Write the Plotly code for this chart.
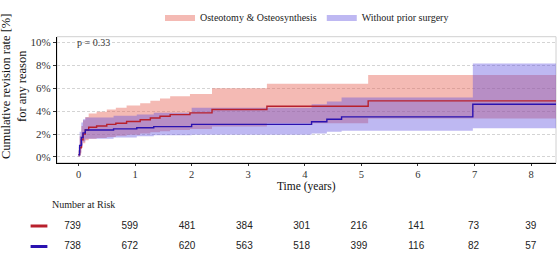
import plotly.graph_objects as go

# ---------------- data ----------------
t_ost = [0, 0.02, 0.05, 0.08, 0.12, 0.18, 0.32, 0.5, 0.66, 0.85, 1.09, 1.27, 1.44, 1.62, 1.97, 2.36, 3.33, 5.12, 8.44]
y_ost = [0.2, 0.8, 1.5, 2.0, 2.35, 2.6, 2.7, 2.85, 2.95, 3.1, 3.25, 3.4, 3.55, 3.7, 3.85, 4.15, 4.43, 4.9, 4.9]
up_ost = [0.5, 1.8, 2.7, 3.2, 3.5, 3.8, 3.95, 4.15, 4.3, 4.5, 4.7, 4.9, 5.1, 5.3, 5.5, 6.0, 6.4, 7.15, 7.15]
lo_ost = [0.0, 0.3, 0.8, 1.2, 1.45, 1.6, 1.65, 1.75, 1.85, 1.95, 2.05, 2.15, 2.25, 2.35, 2.45, 2.65, 2.95, 3.35, 3.35]

t_wo = [0, 0.02, 0.05, 0.08, 0.12, 0.62, 1.03, 1.33, 2.0, 4.12, 4.39, 4.65, 6.97, 8.44]
y_wo = [0.2, 1.0, 1.7, 2.1, 2.35, 2.45, 2.55, 2.65, 2.85, 3.08, 3.29, 3.5, 4.6, 4.6]
up_wo = [0.6, 2.2, 3.0, 3.3, 3.45, 3.6, 3.7, 3.85, 4.3, 4.6, 4.85, 5.2, 8.15, 8.15]
lo_wo = [0.0, 0.4, 1.0, 1.35, 1.6, 1.7, 1.8, 1.9, 1.95, 2.05, 2.2, 2.3, 2.5, 2.5]

risk_times = [0, 1, 2, 3, 4, 5, 6, 7, 8]
risk_ost = [739, 599, 481, 384, 301, 216, 141, 73, 39]
risk_wo = [738, 672, 620, 563, 518, 399, 116, 82, 57]

series_names = ["Osteotomy & Osteosynthesis", "Without prior surgery"]
y_ticks = [0, 2, 4, 6, 8, 10]
y_tick_labels = ["0%", "2%", "4%", "6%", "8%", "10%"]
p_text = "p = 0.33"
y_title = "Cumulative revision rate [%]<br>for any reason"
x_title = "Time (years)"
risk_title = "Number at Risk"

# ---------------- style ----------------
RED_LINE = "#b8202c"
BLUE_LINE = "#2a12b0"
RED_FILL = "rgba(230,98,84,0.44)"
BLUE_FILL = "rgba(92,78,222,0.40)"
SERIF = "Liberation Serif"
SANS = "Liberation Sans"

W, H = 560, 256
L, R = 25, 4
PW = W - L - R

fig = go.Figure()

for t, lo, up, fillc, name in [(t_ost, lo_ost, up_ost, RED_FILL, series_names[0]),
                                (t_wo, lo_wo, up_wo, BLUE_FILL, series_names[1])]:
    fig.add_trace(go.Scatter(x=t, y=lo, mode="lines", line=dict(width=0, shape="hv"),
                             showlegend=False, hoverinfo="skip", legendgroup=name))
    fig.add_trace(go.Scatter(x=t, y=up, mode="lines", line=dict(width=0, shape="hv"),
                             fill="tonexty", fillcolor=fillc, showlegend=True, name=name,
                             legendgroup=name, hoverinfo="skip"))

fig.add_trace(go.Scatter(x=t_ost, y=y_ost, mode="lines", line=dict(color=RED_LINE, width=1.4, shape="hv"),
                         showlegend=False, legendgroup=series_names[0]))
fig.add_trace(go.Scatter(x=t_wo, y=y_wo, mode="lines", line=dict(color=BLUE_LINE, width=1.4, shape="hv"),
                         showlegend=False, legendgroup=series_names[1]))

# risk table
fig.add_trace(go.Scatter(x=risk_times, y=[2] * len(risk_times), mode="text",
                         text=[str(v) for v in risk_ost], textfont=dict(family=SANS, size=10, color="#222"),
                         xaxis="x2", yaxis="y2", showlegend=False, cliponaxis=False))
fig.add_trace(go.Scatter(x=risk_times, y=[1] * len(risk_times), mode="text",
                         text=[str(v) for v in risk_wo], textfont=dict(family=SANS, size=10, color="#222"),
                         xaxis="x2", yaxis="y2", showlegend=False, cliponaxis=False))
fig.add_trace(go.Scatter(x=[-0.585, -0.585], y=[2, 1], mode="markers",
                         marker=dict(symbol="line-ew", size=12, line=dict(width=3, color=[RED_LINE, BLUE_LINE])),
                         xaxis="x2", yaxis="y2", showlegend=False, cliponaxis=False, hoverinfo="skip"))

fig.update_layout(
    width=W, height=H,
    margin=dict(l=L, r=R, t=0, b=0, autoexpand=False),
    paper_bgcolor="white", plot_bgcolor="white",
    font=dict(family=SERIF, color="#222"),
    showlegend=True,
    legend=dict(orientation="h", x=(307 - L) / PW, xanchor="center", y=(H - 17) / H, yanchor="middle",
                font=dict(family=SERIF, size=10, color="#222"), itemwidth=30,
                bgcolor="rgba(0,0,0,0)"),
    xaxis=dict(domain=[(57 - L) / PW, 1], range=[-0.38, 8.44], tickvals=risk_times, showgrid=False,
               zeroline=False, showline=True, linecolor="black", linewidth=1.2, ticks="outside", ticklen=2,
               tickcolor="#333", tickfont=dict(family=SERIF, size=10.5, color="#333"),
               anchor="y", automargin=False),
    yaxis=dict(domain=[(H - 162.7) / H, (H - 36.7) / H], range=[-0.5, 10.5], tickvals=y_ticks,
               ticktext=y_tick_labels, showgrid=True, gridcolor="#d4d4d4", griddash="3px,2px", gridwidth=0.8,
               zeroline=False, showline=True, linecolor="black", linewidth=1.2, ticks="outside",
               ticklen=3, tickcolor="#333", tickfont=dict(family=SERIF, size=11, color="#333"),
               anchor="x", automargin=False),
    xaxis2=dict(domain=[0, 1], range=[-(72.5 - L) / 57.29, -(72.5 - L) / 57.29 + PW / 57.29],
                visible=False, anchor="y2", automargin=False),
    yaxis2=dict(domain=[0, (H - 190) / H], range=[0.537, 3.756], visible=False, anchor="x2", automargin=False),
    shapes=[dict(type="rect", xref="x domain", yref="y domain", x0=0, x1=1, y0=0, y1=1,
                 line=dict(color="#d0d0d0", width=1), layer="below")],
    annotations=[
        dict(text=p_text, x=0.26, y=10, xref="x", yref="y", showarrow=False,
             font=dict(family=SERIF, size=10, color="#333")),
        dict(text=risk_title, x=(50 - L) / PW, y=(H - 204) / H, xref="paper", yref="paper",
             xanchor="left", yanchor="middle", showarrow=False,
             font=dict(family=SERIF, size=10, color="#222")),
        dict(text=y_title, x=(14 - L) / PW, y=(H - 87) / H, xref="paper", yref="paper",
             xanchor="center", yanchor="middle", textangle=-90, showarrow=False,
             font=dict(family=SERIF, size=12.5, color="#111")),
        dict(text=x_title, x=(306 - L) / PW, y=(H - 186) / H, xref="paper", yref="paper",
             xanchor="center", yanchor="middle", showarrow=False,
             font=dict(family=SERIF, size=11.5, color="#111")),
    ],
)

fig.write_html("out.html", config={"displayModeBar": False},
               post_script="document.body.style.margin='0';document.body.style.overflow='hidden';")
